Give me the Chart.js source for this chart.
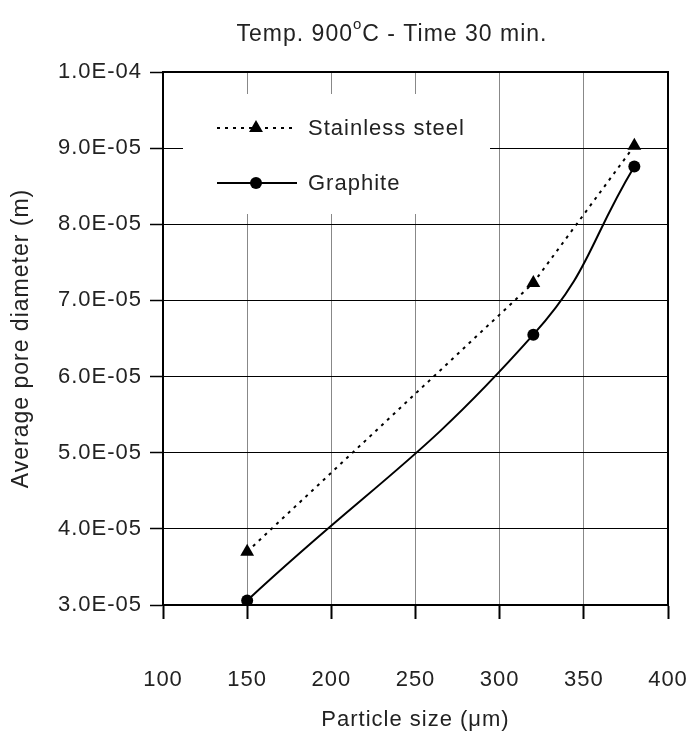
<!DOCTYPE html>
<html>
<head>
<meta charset="utf-8">
<script src="https://cdn.jsdelivr.net/npm/chart.js@4.4.1/dist/chart.umd.min.js"></script>
<style>
  html, body { margin: 0; padding: 0; background: #fff; }
  canvas { display: block; }
</style>
</head>
<body>
<canvas id="chart" width="694" height="733"></canvas>
<script>
const canvas = document.getElementById("chart").getContext("2d");

// Datos: tamaño de partícula (µm) y diámetro medio de poro (m)
const particleSize = [150, 320, 380];
const stainlessSteel = [3.70e-5, 7.23e-5, 9.03e-5];
const graphite = [3.06e-5, 6.55e-5, 8.76e-5];

const xTicks = [100, 150, 200, 250, 300, 350, 400];
const yTicks = [3e-5, 4e-5, 5e-5, 6e-5, 7e-5, 8e-5, 9e-5, 1e-4];

const FONT = '"Liberation Sans", Arial, sans-serif';
const TEXT = '#222';
const SPACING = '1px';

// 1.0E-04 style labels
const sci = (v) => {
    const [m, e] = v.toExponential(1).split('e');
    const n = Number(e);
    return m + 'E' + (n < 0 ? '-' : '+') + String(Math.abs(n)).padStart(2, '0');
};

const toPoints = (ys) => particleSize.map((x, i) => ({ x: x, y: ys[i] }));

// letter spacing has to be set again after the canvas is resized
const spacing = {
    id: 'spacing',
    beforeUpdate(chart) { chart.ctx.letterSpacing = SPACING; },
    beforeDraw(chart) { chart.ctx.letterSpacing = SPACING; }
};

// caja del gráfico + leyenda dentro del área
const frame = {
    id: 'frame',
    beforeDatasetsDraw(chart) {
        const { ctx, chartArea: a } = chart;
        ctx.save();
        ctx.strokeStyle = '#000';
        ctx.lineWidth = 2;
        ctx.strokeRect(a.left, a.top, a.right - a.left, a.bottom - a.top);

        ctx.fillStyle = '#fff';
        ctx.fillRect(a.left + 20, a.top + 22, 307, 120);

        chart.data.datasets.forEach((ds, i) => {
            const y = a.top + 56 + i * 55;
            const xm = a.left + 93;
            ctx.strokeStyle = '#000';
            ctx.lineWidth = ds.borderWidth;
            ctx.setLineDash(ds.borderDash || []);
            ctx.beginPath();
            ctx.moveTo(a.left + 54, y);
            ctx.lineTo(a.left + 134, y);
            ctx.stroke();
            ctx.setLineDash([]);

            ctx.fillStyle = '#000';
            ctx.beginPath();
            if (ds.pointStyle === 'triangle') {
                const r = ds.pointRadius;
                ctx.moveTo(xm, y - r);
                ctx.lineTo(xm + r * 0.866, y + r * 0.5);
                ctx.lineTo(xm - r * 0.866, y + r * 0.5);
                ctx.closePath();
            } else {
                ctx.arc(xm, y, ds.pointRadius, 0, Math.PI * 2);
            }
            ctx.fill();

            ctx.fillStyle = TEXT;
            ctx.font = '22px ' + FONT;
            ctx.textBaseline = 'middle';
            ctx.textAlign = 'left';
            ctx.fillText(ds.label, a.left + 145, y + 1);
        });
        ctx.restore();
    }
};

// título con el "o" en superíndice
const titleParts = ['Temp. 900', 'o', 'C - Time 30 min.'];
const heading = {
    id: 'heading',
    afterDraw(chart) {
        const ctx = chart.ctx;
        ctx.save();
        ctx.fillStyle = TEXT;
        ctx.textBaseline = 'alphabetic';
        ctx.textAlign = 'left';
        const big = '23px ' + FONT, small = '15px ' + FONT;
        ctx.font = big;
        const w0 = ctx.measureText(titleParts[0]).width;
        const w2 = ctx.measureText(titleParts[2]).width;
        ctx.font = small;
        const w1 = ctx.measureText(titleParts[1]).width;
        let x = 392 - (w0 + w1 + w2) / 2;
        const base = 41;
        ctx.font = big;
        ctx.fillText(titleParts[0], x, base);
        x += w0;
        ctx.font = small;
        ctx.fillText(titleParts[1], x, base - 12);
        x += w1;
        ctx.font = big;
        ctx.fillText(titleParts[2], x, base);
        ctx.restore();
    }
};

const data = {
    datasets: [{
        label: 'Stainless steel',
        data: toPoints(stainlessSteel),
        borderColor: '#000',
        backgroundColor: '#000',
        borderWidth: 2,
        borderDash: [3, 5],
        pointStyle: 'triangle',
        pointRadius: 8,
        pointBorderWidth: 0,
        tension: 0
    }, {
        label: 'Graphite',
        data: toPoints(graphite),
        borderColor: '#000',
        backgroundColor: '#000',
        borderWidth: 2,
        pointStyle: 'circle',
        pointRadius: 6,
        pointBorderWidth: 0,
        tension: 0.45
    }]
};

const config = {
    type: 'scatter',
    data: data,
    options: {
        responsive: false,
        animation: false,
        showLine: true,
        layout: { padding: { top: 72, right: 26, bottom: 0, left: 0 } },
        plugins: {
            legend: { display: false },
            tooltip: { enabled: false }
        },
        scales: {
            x: {
                type: 'linear',
                min: 100,
                max: 400,
                afterBuildTicks: (s) => { s.ticks = xTicks.map(v => ({ value: v })); },
                afterFit: (s) => { s.height = 128; },
                // tall line box pushes the labels well below the axis
                ticks: { font: { family: FONT, size: 22, lineHeight: '114px' }, color: TEXT, padding: 4, maxRotation: 0 },
                grid: { color: '#888', lineWidth: 1, tickColor: '#000', tickLength: 14, tickWidth: 2 },
                border: { color: '#000', width: 2 },
                title: {
                    display: true,
                    text: 'Particle size (μm)',
                    font: { family: FONT, size: 22 },
                    color: TEXT,
                    padding: { top: 0, bottom: 0 }
                }
            },
            y: {
                type: 'linear',
                min: 3e-5,
                max: 1e-4,
                afterBuildTicks: (s) => { s.ticks = yTicks.map(v => ({ value: v })); },
                afterFit: (s) => { s.width = 163; },
                ticks: { font: { family: FONT, size: 22 }, color: TEXT, padding: 8, callback: (v) => sci(v) },
                grid: { color: '#000', lineWidth: 1, tickColor: '#000', tickLength: 13, tickWidth: 1.5 },
                border: { color: '#000', width: 2 },
                title: {
                    display: true,
                    text: 'Average pore diameter (m)',
                    font: { family: FONT, size: 23 },
                    color: TEXT,
                    padding: { top: 8, bottom: 0 }
                }
            }
        }
    },
    plugins: [spacing, frame, heading]
};

const chart = new Chart(canvas, config);
</script>
</body>
</html>
